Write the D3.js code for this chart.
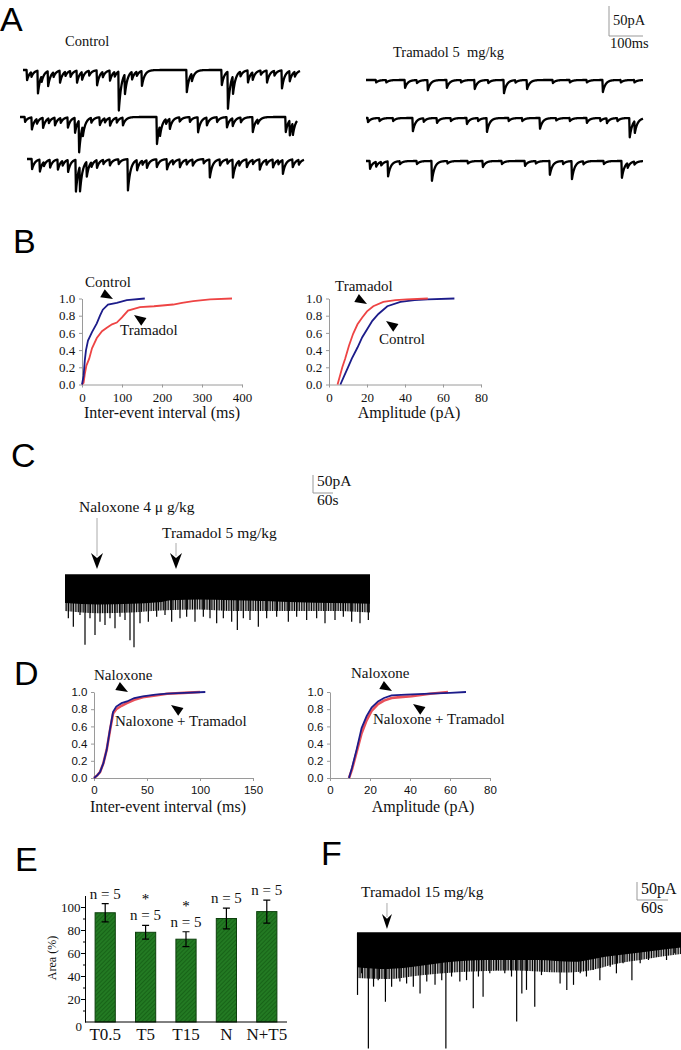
<!DOCTYPE html>
<html>
<head>
<meta charset="utf-8">
<script src="https://cdn.jsdelivr.net/npm/d3@7"></script>
<style>
body { margin: 0; background: #fff; }
</style>
</head>
<body>
<div id="fig"></div>
<script>
// Figure: sEPSC traces (A, C, F), cumulative plots (B, D), bar chart (E)

// ---- data ----
// A: events, [time ms, amplitude pA]
var ctrlRow1 = [[12,17],[25,8],[44,38],[55,10],[74,25],[90,8],[109,20],[125,7],[140,10],[159,20],[174,13],[195,8],[218,25],[235,9],[256,17],[270,8],[282,65],[300,33],[321,13],[335,7],[350,25],
                [482,37],[497,13],[585,25],[603,62],[618,30],[640,8],[662,20],[676,13],[700,7],[718,20],[740,8],[762,30],[785,17],[800,8]];
var ctrlRow2 = [[15,8],[35,20],[50,8],[68,17],[85,8],[103,13],[120,8],[141,17],[162,25],[174,53],[185,17],[210,8],[235,13],[250,7],[265,13],[285,8],[303,13],
                [403,45],[412,17],[430,8],[441,17],[470,7],[500,8],[524,25],[550,13],[580,8],[609,17],[626,13],[650,8],[685,25],[700,7],[782,25],[794,25],[803,20]];
var ctrlRow3 = [[15,17],[38,20],[50,7],[68,13],[91,17],[105,8],[121,20],[144,53],[156,42],[176,25],[190,8],[206,13],[225,7],[244,10],[270,8],[297,52],[324,17],[340,7],[353,13],
                [382,13],[412,17],[430,7],[450,13],[470,8],[488,10],[520,7],[538,30],[568,10],[590,7],[606,30],[625,8],[647,13],[665,7],[685,17],[705,8],[724,13],[740,7],[753,23],[782,13],[800,8]];
var tramRow1 = [[30,4],[60,4],[115,13],[150,5],[182,17],[238,13],[280,4],[320,15],[360,5],[406,22],[440,4],[474,15],[550,5],[600,4],[650,4],[697,20],[750,4],[790,4]];
var tramRow2 = [[6,7],[40,5],[80,5],[138,22],[170,6],[209,8],[250,5],[297,10],[330,5],[356,23],[420,5],[460,5],[512,18],[560,4],[600,5],[650,8],[690,5],[709,8],[740,5],[776,32],[791,20]];
var tramRow3 = [[12,13],[30,8],[45,6],[65,25],[100,5],[150,5],[194,33],[240,4],[300,4],[344,10],[400,5],[468,8],[500,4],[541,23],[580,5],[606,30],[640,5],[700,5],[753,28],[770,8],[790,5]];

// B: cumulative fractions, [x, fraction]
var bIntCtrl = [[0,0],[4,0.1],[7,0.28],[10,0.4],[15,0.51],[25,0.61],[37,0.71],[45,0.8],[52,0.87],[65,0.93],[87,0.95],[112,0.98],[157,1.0]];
var bIntTram = [[0,0],[4,0.02],[7,0.12],[11,0.22],[18,0.3],[25,0.42],[37,0.54],[50,0.62],[62,0.66],[75,0.7],[87,0.72],[100,0.78],[115,0.86],[145,0.9],[180,0.91],[228,0.93],[250,0.95],[278,0.97],[320,0.99],[375,1.0]];
var bAmpCtrl = [[6,0],[8,0.1],[10,0.2],[12,0.3],[15,0.43],[17.5,0.55],[20,0.64],[22.8,0.74],[26,0.82],[30.7,0.91],[37.6,0.96],[45,0.98],[52,0.99],[66,1.0]];
var bAmpTram = [[4.5,0],[6,0.12],[7,0.2],[8.5,0.3],[10.5,0.45],[12.7,0.59],[15,0.7],[17.5,0.78],[20,0.85],[23.3,0.91],[28.6,0.96],[35,0.98],[41,0.99],[52,1.0]];

// C: long recording, seconds / pA
var cSolid = [[0,78],[100,82],[200,80],[280,76],[320,70],[400,68],[500,70],[600,72],[700,76],[800,78],[915,80]];
var cFringe = [[0,100],[100,106],[200,104],[300,98],[400,96],[500,100],[600,100],[700,100],[800,100],[915,104]];
var cSpikes = [[10,120],[25,144],[45,111],[60,194],[75,120],[90,167],[105,130],[120,139],[135,120],[150,148],[165,116],[180,125],[195,181],[207,201],[225,134],
               [250,130],[275,116],[300,111],[320,130],[345,120],[365,116],[390,130],[415,116],[435,120],[455,134],[475,120],[500,130],[517,153],[535,120],[555,125],
               [580,144],[605,120],[635,116],[670,130],[695,116],[725,125],[755,120],[780,134],[810,125],[835,116],[860,130],[885,134],[910,125]];
var cNalT = 96, cTramT = 333;

// D: cumulative fractions
var dIntNal = [[0,0],[3,0.03],[5.7,0.07],[8.8,0.17],[12,0.33],[15,0.56],[18,0.77],[21,0.83],[26,0.87],[31,0.89],[38,0.93],[46,0.95],[58,0.97],[69,0.98],[85,0.99],[105,1.0]];
var dIntNT = [[0,0],[3,0.03],[5.7,0.07],[8.8,0.17],[12,0.33],[15,0.55],[18,0.75],[21,0.8],[26,0.84],[31,0.87],[38,0.91],[46,0.94],[58,0.96],[69,0.98],[85,0.99],[100,1.0]];
var dAmpNal = [[9.5,0],[11,0.12],[13.3,0.33],[15.8,0.58],[18.3,0.72],[20.8,0.82],[24,0.89],[27,0.93],[30.8,0.96],[38,0.97],[50,0.98],[60,0.99],[68,1.0]];
var dAmpNT = [[9.5,0],[11,0.1],[13.3,0.3],[15.8,0.52],[18.3,0.67],[20.8,0.78],[24,0.86],[27,0.9],[30.8,0.93],[35,0.94],[40.8,0.95],[50,0.98],[59,1.0]];

// E: bars
var eCats = ["T0.5", "T5", "T15", "N", "N+T5"];
var eVals = [95, 78, 72, 90, 96];
var eErr = [8, 6, 6.5, 9, 10];
var eN = ["n = 5", "n = 5", "n = 5", "n = 5", "n = 5"];
var eStar = [false, true, true, false, false];

// F: long recording after tramadol 15 mg/kg
var fSolid = [[0,95],[60,100],[120,92],[170,82],[250,75],[350,75],[420,80],[480,66],[560,52],[630,40]];
var fFringe = [[0,125],[60,128],[120,118],[200,108],[300,104],[400,110],[450,104],[500,86],[560,72],[630,58]];
var fSpikes = [[1,172],[9,112],[22,321],[32,149],[41,131],[55,191],[67,149],[83,135],[96,140],[109,149],[122,168],[135,135],[151,144],[164,131],[172,321],
               [183,121],[199,135],[212,131],[225,209],[235,121],[244,177],[257,112],[270,103],[286,112],[299,121],[309,246],[319,168],[328,158],[344,205],[357,117],
               [373,103],[393,140],[406,158],[419,144],[432,112],[444,121],[457,103],[470,131],[490,94],[502,112],[515,84],[532,131],[548,84],[564,75],[580,66],[599,75],[615,56]];
var fTramT = 58;

// ---- setup ----
var SERIF = '"Liberation Serif", "Times New Roman", serif';
var SANS = '"Liberation Sans", Arial, sans-serif';
var blue = "#1c1c8a", red = "#ee4444";

var svg = d3.select("#fig").append("svg")
    .attr("width", 681)
    .attr("height", 1050);

var defs = svg.append("defs");
var hatch = defs.append("pattern").attr("id", "hatch")
    .attr("patternUnits", "userSpaceOnUse").attr("width", 3).attr("height", 3)
    .attr("patternTransform", "rotate(45)");
hatch.append("rect").attr("width", 3).attr("height", 3).attr("fill", "#237a23");
hatch.append("line").attr("x1", 0).attr("y1", 0).attr("x2", 0).attr("y2", 3)
    .attr("stroke", "#135a13").attr("stroke-width", 1.4);
var stripe = defs.append("pattern").attr("id", "stripe")
    .attr("patternUnits", "userSpaceOnUse").attr("width", 1.7).attr("height", 4);
stripe.append("rect").attr("width", 1).attr("height", 4).attr("fill", "#000");

function txt(s, x, y, size, opts) {
    opts = opts || {};
    return svg.append("text")
        .attr("x", x).attr("y", y)
        .attr("font-family", opts.family || SERIF)
        .attr("font-size", size)
        .attr("text-anchor", opts.anchor || "start")
        .attr("fill", "#111")
        .text(s);
}

// panel letters
[["A", 0, 31], ["B", 13, 253], ["C", 11, 467], ["D", 14, 685], ["E", 15, 871], ["F", 321, 865]].forEach(function(l){
    txt(l[0], l[1], l[2], 34, {family: SANS}).attr("fill", "#000");
});

// ---- A: traces ----
var aDur = 815, aWidth = 277, aPx50 = 30, tauA = 8;

function drawTrace(events, x0, base) {
    var x = d3.scaleLinear().domain([0, aDur]).range([x0, x0 + aWidth]);
    var y = d3.scaleLinear().domain([0, 50]).range([base, base + aPx50]);
    var pts = d3.range(0, aDur + 0.5, 0.5).map(function(t){
        var v = 0;
        events.forEach(function(e){
            var dt = t - e[0];
            if (dt >= 0) v += e[1] * Math.exp(-dt / tauA);
            else if (dt > -1.5) v += e[1] * (dt + 1.5) / 1.5;
        });
        return [t, v];
    });
    svg.append("path").datum(pts)
        .attr("d", d3.line().x(function(d){ return x(d[0]); }).y(function(d){ return y(d[1]); }))
        .attr("fill", "none").attr("stroke", "#000").attr("stroke-width", 2.3)
        .attr("stroke-linejoin", "round");
    return {x: x, y: y};
}

drawTrace(ctrlRow1, 23, 70);
drawTrace(ctrlRow2, 20, 117);
drawTrace(ctrlRow3, 27, 159);
var aSc = drawTrace(tramRow1, 366, 80);
drawTrace(tramRow2, 366, 118);
drawTrace(tramRow3, 366, 161);

txt("Control", 65, 46, 14.5);
txt("Tramadol 5  mg/kg", 393, 57, 14.5).style("white-space", "pre");

// A scale bar: 50 pA / 100 ms
var aBarX = 609, aBarY = 36;
svg.append("path")
    .attr("d", "M" + aBarX + "," + (aBarY - (aSc.y(50) - aSc.y(0))) + "V" + aBarY + "H" + (aBarX + aSc.x(100) - aSc.x(0)))
    .attr("fill", "none").attr("stroke", "#999").attr("stroke-width", 1);
txt("50pA", 613, 25, 14.5);
txt("100ms", 610, 48, 14.5);

// ---- cumulative panels ----
function arrowTri(tx, ty, ang) {
    svg.append("path")
        .attr("d", "M0,0L-12,-4.6L-12,4.6Z")
        .attr("transform", "translate(" + tx + "," + ty + ") rotate(" + ang + ")")
        .attr("fill", "#000");
}

function cdfPanel(o) {
    var x = d3.scaleLinear().domain(o.xDom).range(o.xRange);
    var y = d3.scaleLinear().domain([0, 1]).range(o.yRange);
    var g = svg.append("g");
    var ax = g.append("g").attr("transform", "translate(0," + o.yRange[0] + ")")
        .call(d3.axisBottom(x).tickValues(o.xTicks).tickSize(3).tickSizeOuter(0).tickFormat(d3.format("d")));
    var ay = g.append("g").attr("transform", "translate(" + o.xRange[0] + ",0)")
        .call(d3.axisLeft(y).tickValues([0, 0.2, 0.4, 0.6, 0.8, 1.0]).tickSize(3).tickSizeOuter(0).tickFormat(d3.format(".1f")));
    [ax, ay].forEach(function(a){
        a.select(".domain").attr("stroke", "#9a9a9a");
        a.selectAll(".tick line").attr("stroke", "#9a9a9a");
        a.selectAll("text").attr("font-family", o.tickFamily).attr("font-size", o.tickSize).attr("fill", "#111");
    });
    ax.selectAll("text").attr("dy", "0.9em");
    ay.selectAll("text").attr("dx", "-0.05em");
    var line = d3.line().x(function(d){ return x(d[0]); }).y(function(d){ return y(d[1]); });
    o.series.forEach(function(s){
        g.append("path").datum(s.data).attr("d", line)
            .attr("fill", "none").attr("stroke", s.color).attr("stroke-width", s.width || 1.8);
    });
    txt(o.xLabel, o.labelX, o.labelY, 16, {anchor: "middle"});
    return {x: x, y: y};
}

// B left
cdfPanel({xDom: [0, 400], xRange: [82, 242], yRange: [384.5, 298.5], xTicks: [0, 100, 200, 300, 400],
    tickFamily: SERIF, tickSize: 13, xLabel: "Inter-event interval (ms)", labelX: 162, labelY: 418,
    series: [{data: bIntTram, color: red}, {data: bIntCtrl, color: blue}]});
txt("Control", 85, 287, 15);
arrowTri(113, 299, 29);
txt("Tramadol", 120, 335, 15);
arrowTri(134, 315, 215);

// B right
cdfPanel({xDom: [0, 80], xRange: [329, 481], yRange: [384.5, 298.5], xTicks: [0, 20, 40, 60, 80],
    tickFamily: SERIF, tickSize: 13, xLabel: "Amplitude (pA)", labelX: 409, labelY: 418,
    series: [{data: bAmpCtrl, color: blue}, {data: bAmpTram, color: red}]});
txt("Tramadol", 335, 291, 15);
arrowTri(367, 304, 30);
txt("Control", 379, 344, 15);
arrowTri(386, 321, 215);

// D left
cdfPanel({xDom: [0, 150], xRange: [94, 253], yRange: [778, 692], xTicks: [0, 50, 100, 150],
    tickFamily: SANS, tickSize: 11.5, xLabel: "Inter-event interval (ms)", labelX: 168, labelY: 812,
    series: [{data: dIntNT, color: "#e8505a", width: 2.6}, {data: dIntNal, color: blue}]});
txt("Naloxone", 94, 680, 15);
arrowTri(128, 692, 30);
txt("Naloxone + Tramadol", 115, 726, 15);
arrowTri(171, 705, 215);

// D right
cdfPanel({xDom: [0, 80], xRange: [330, 490], yRange: [778, 692], xTicks: [0, 20, 40, 60, 80],
    tickFamily: SANS, tickSize: 11.5, xLabel: "Amplitude (pA)", labelX: 423, labelY: 812,
    series: [{data: dAmpNT, color: "#e8505a", width: 2.6}, {data: dAmpNal, color: blue}]});
txt("Naloxone", 351, 678, 15);
arrowTri(392, 691, 30);
txt("Naloxone + Tramadol", 373, 724, 15);
arrowTri(413, 704, 215);

// ---- long recordings (C, F) ----
function longTrace(o) {
    var x = d3.scaleLinear().domain(o.xDom).range(o.xRange);
    var y = d3.scaleLinear().domain([0, 50]).range([o.base, o.base + 18]);
    var area = function(data){
        return d3.area().x(function(d){ return x(d[0]); }).y0(o.base).y1(function(d){ return y(d[1]); })
            .curve(d3.curveMonotoneX)(data);
    };
    svg.append("path").attr("d", area(o.fringe)).attr("fill", "url(#stripe)");
    svg.append("path").attr("d", area(o.solid)).attr("fill", "#000");
    svg.selectAll(null).data(o.spikes).enter().append("line")
        .attr("x1", function(d){ return x(d[0]); }).attr("x2", function(d){ return x(d[0]); })
        .attr("y1", o.base).attr("y2", function(d){ return y(d[1]); })
        .attr("stroke", "#000").attr("stroke-width", 1.2);
    svg.append("line").attr("x1", o.xRange[0]).attr("x2", o.xRange[1]).attr("y1", o.base).attr("y2", o.base)
        .attr("stroke", "#000").attr("stroke-width", 1.5);
    return {x: x, y: y};
}

function chevron(cx, tipY, w, h, lineTop) {
    svg.append("line").attr("x1", cx).attr("x2", cx).attr("y1", lineTop).attr("y2", tipY - h + 3)
        .attr("stroke", "#aaa").attr("stroke-width", 1);
    svg.append("path")
        .attr("d", "M" + cx + "," + tipY + "L" + (cx - w / 2) + "," + (tipY - h) + "L" + cx + "," + (tipY - h * 0.68) + "L" + (cx + w / 2) + "," + (tipY - h) + "Z")
        .attr("fill", "#000");
}

function scaleBar(sc, bx, by, sec, labelTop, labelBot, size) {
    var h = sc.y(50) - sc.y(0), w = sc.x(sec) - sc.x(0);
    svg.append("path").attr("d", "M" + bx + "," + (by - h) + "V" + by + "H" + (bx + w))
        .attr("fill", "none").attr("stroke", "#999").attr("stroke-width", 1);
    txt("50pA", bx + 4, labelTop, size);
    txt(sec + "s", bx + 4, labelBot, size);
}

// C
var cSc = longTrace({xDom: [0, 915], xRange: [65, 370], base: 575, solid: cSolid, fringe: cFringe, spikes: cSpikes});
txt("Naloxone 4 \u03bc g/kg", 79, 512, 15.5);
chevron(cSc.x(cNalT), 569, 12, 16, 518);
txt("Tramadol 5 mg/kg", 162, 538, 15.5);
chevron(cSc.x(cTramT), 569, 12, 16, 543);
scaleBar(cSc, 313, 493, 60, 486, 505, 15.5);

// ---- E: bar chart ----
var ex = d3.scaleBand().domain(eCats).range([85, 287]).paddingInner(0.5).paddingOuter(0.25);
var ey = d3.scaleLinear().domain([0, 110]).range([1022, 895.5]);
var eg = svg.append("g");
eg.selectAll("rect").data(eCats).enter().append("rect")
    .attr("x", function(d){ return ex(d); })
    .attr("y", function(d, i){ return ey(eVals[i]); })
    .attr("width", ex.bandwidth())
    .attr("height", function(d, i){ return ey(0) - ey(eVals[i]); })
    .attr("fill", "url(#hatch)").attr("stroke", "#0d400d").attr("stroke-width", 1);
eCats.forEach(function(c, i){
    var cx = ex(c) + ex.bandwidth() / 2;
    var top = ey(eVals[i] + eErr[i]), bot = ey(eVals[i] - eErr[i]);
    eg.append("path")
        .attr("d", "M" + cx + "," + top + "V" + bot + "M" + (cx - 3.5) + "," + top + "H" + (cx + 3.5) + "M" + (cx - 3.5) + "," + bot + "H" + (cx + 3.5))
        .attr("stroke", "#000").attr("stroke-width", 1.2).attr("fill", "none");
    txt(eN[i], cx, top - 5, 15, {anchor: "middle"});
    if (eStar[i]) txt("*", cx, top - 21, 15, {anchor: "middle"}).attr("fill", "#000");
    txt(c, cx, 1040, 17, {anchor: "middle"});
});
var eAxis = eg.append("g").attr("transform", "translate(85,0)")
    .call(d3.axisLeft(ey).tickValues([20, 40, 60, 80, 100]).tickSize(4).tickSizeOuter(0));
eAxis.selectAll("text").attr("font-family", SERIF).attr("font-size", 13).attr("fill", "#111").attr("dx", "0.2em");
eAxis.select(".domain").attr("stroke", "#000");
eAxis.selectAll(".tick line").attr("stroke", "#000");
eg.append("g").attr("transform", "translate(85,0)")
    .call(d3.axisLeft(ey).tickValues(d3.range(10, 110, 20)).tickSize(2).tickFormat(""))
    .call(function(a){ a.select(".domain").remove(); a.selectAll("line").attr("stroke", "#000"); });
txt("0", 82, 1031, 13, {anchor: "end"});
eg.append("line").attr("x1", 85).attr("x2", 287).attr("y1", ey(0)).attr("y2", ey(0))
    .attr("stroke", "#000").attr("stroke-width", 1);
txt("Area (%)", 0, 0, 12, {anchor: "middle"}).attr("transform", "translate(56,958) rotate(-90)");

// ---- F ----
var fSc = longTrace({xDom: [0, 627], xRange: [357, 681], base: 933, solid: fSolid, fringe: fFringe, spikes: fSpikes});
txt("Tramadol 15 mg/kg", 361, 897, 15.5);
chevron(fSc.x(fTramT), 929, 10, 15, 903);
scaleBar(fSc, 637, 900, 60, 894, 913, 16);
</script>
</body>
</html>
